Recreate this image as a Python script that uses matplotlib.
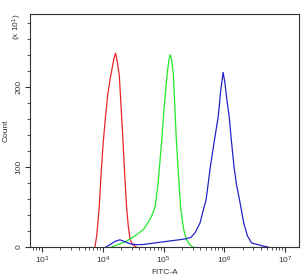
import numpy as np
import matplotlib
matplotlib.use('Agg')
import matplotlib.pyplot as plt
from matplotlib.ticker import MultipleLocator, LogLocator, NullFormatter

plt.rcParams.update({'font.family': ['Liberation Sans', 'DejaVu Sans'],
                     'mathtext.default': 'regular', 'font.size': 6})

# log10(FITC-A) and counts (x 10)
red_log = [3.87, 3.90, 3.94, 3.97, 4.00, 4.04, 4.08, 4.12, 4.15, 4.18, 4.21, 4.24,
           4.27, 4.30, 4.33, 4.36, 4.39, 4.42, 4.45, 4.49, 4.55]
red_cnt = [0, 15, 50, 90, 125, 160, 190, 210, 222, 235, 242, 230,
           215, 175, 134, 90, 50, 25, 9, 3, 0]

green_log = [4.15, 4.25, 4.35, 4.45, 4.55, 4.62, 4.68, 4.74, 4.80, 4.86, 4.91, 4.97,
             5.01, 5.06, 5.09, 5.11, 5.13, 5.16, 5.185, 5.21, 5.245, 5.28, 5.33, 5.38,
             5.43, 5.48]
green_cnt = [0, 3, 6, 10, 15, 19, 23, 30, 38, 50, 80, 134,
             175, 217, 235, 240, 235, 217, 175, 134, 90, 50, 22, 9,
             3, 0]

blue_log = [4.05, 4.12, 4.20, 4.28, 4.35, 4.45, 4.55, 4.65, 4.75, 4.85, 4.95, 5.05,
            5.15, 5.25, 5.35, 5.45, 5.52, 5.60, 5.65, 5.70, 5.77, 5.83, 5.90, 5.94,
            5.98, 6.01, 6.04, 6.08, 6.12, 6.16, 6.20, 6.25, 6.32, 6.38, 6.45, 6.55,
            6.65, 6.72]
blue_cnt = [0, 3, 7, 9, 7, 4, 3, 3, 4, 5, 6, 7,
            8, 9, 10, 12, 18, 30, 45, 59, 100, 130, 163, 195,
            218, 205, 185, 163, 130, 100, 78, 59, 30, 14, 5, 3,
            1, 0]

fig = plt.figure(figsize=(3.07, 2.75), dpi=100)
ax = fig.add_axes([30/307, 1 - 247/275, 269/307, 233/275])

ax.plot(10**np.array(red_log), red_cnt, color='#e8262a', lw=0.9)
ax.plot(10**np.array(green_log), green_cnt, color='#22e82a', lw=0.9)
ax.plot(10**np.array(blue_log), blue_cnt, color='#2424c8', lw=0.9)

ax.set_xscale('log')
ax.set_xlim(10**2.8, 10**7.23)
ax.set_ylim(0, 291)
ax.xaxis.set_major_locator(LogLocator(base=10, numticks=10))
ax.xaxis.set_minor_locator(LogLocator(base=10, subs=np.arange(2, 10), numticks=20))
ax.xaxis.set_minor_formatter(NullFormatter())
ax.yaxis.set_major_locator(MultipleLocator(100))
ax.yaxis.set_minor_locator(MultipleLocator(20))
ax.tick_params(which='major', length=3.5, width=0.8, color='#333333', labelsize=6,
               labelcolor='#333333', pad=2)
ax.tick_params(which='minor', length=2, width=0.6, color='#333333')
for lab in ax.get_yticklabels():
    lab.set_rotation(90)
    lab.set_va('center')
for sp in ax.spines.values():
    sp.set_color('#333333')
    sp.set_linewidth(0.8)

ax.set_xlabel('FITC-A', fontsize=6, labelpad=2, color='#333333')
ax.set_ylabel('Count', fontsize=6, labelpad=4, color='#333333')
fig.text(17/307, 1 - 27/275, '(x 10$^1$)', rotation=90, fontsize=6, ha='center', va='center',
         color='#333333')

fig.savefig('out.png', dpi=100)
